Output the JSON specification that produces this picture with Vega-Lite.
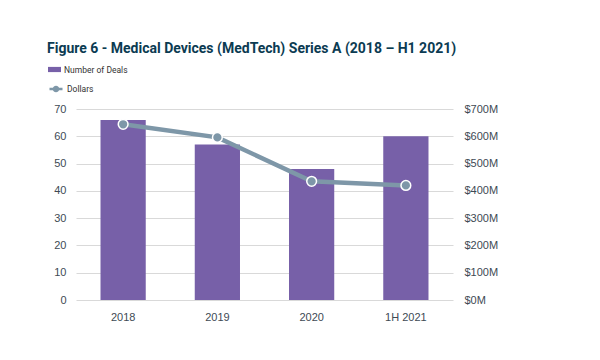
{
  "$schema": "https://vega.github.io/schema/vega-lite/v6.json",
  "width": 377,
  "height": 191,
  "autosize": {"type": "none"},
  "padding": {"left": 76, "top": 109, "right": 147, "bottom": 60},
  "background": "white",
  "title": {
    "text": "Figure 6 - Medical Devices (MedTech) Series A (2018 – H1 2021)",
    "anchor": "start",
    "frame": "group",
    "dx": -29,
    "offset": 7,
    "font": "Roboto",
    "fontSize": 14,
    "fontWeight": "bold",
    "color": "#0B3B52"
  },
  "config": {
    "view": {"stroke": null},
    "axis": {
      "labelFont": "Liberation Sans",
      "labelFontSize": 11,
      "labelColor": "#3E4A54",
      "ticks": false,
      "domain": false,
      "title": null
    },
    "legend": {
      "labelFont": "Roboto",
      "labelFontSize": 8.5,
      "labelColor": "#333333",
      "labelOffset": 3,
      "title": null,
      "orient": "none"
    }
  },
  "data": {
    "values": [
      {"year": "2018", "deals": 66, "dollars": 644},
      {"year": "2019", "deals": 57, "dollars": 596},
      {"year": "2020", "deals": 48, "dollars": 435},
      {"year": "1H 2021", "deals": 60, "dollars": 420}
    ]
  },
  "encoding": {
    "x": {
      "field": "year",
      "type": "nominal",
      "sort": null,
      "scale": {"paddingInner": 0.52, "paddingOuter": 0.26},
      "axis": {"labelAngle": 0, "labelPadding": 11, "grid": false}
    }
  },
  "layer": [
    {
      "mark": {"type": "bar"},
      "encoding": {
        "y": {
          "field": "deals",
          "type": "quantitative",
          "scale": {"domain": [0, 70]},
          "axis": {
            "values": [0, 10, 20, 30, 40, 50, 60, 70],
            "grid": true,
            "gridColor": "#D9D9D9",
            "labelPadding": 10
          }
        },
        "color": {
          "datum": "Number of Deals",
          "scale": {"range": ["#7760A8"]},
          "legend": {
            "legendX": -28,
            "legendY": -46,
            "symbolType": "M-1,-0.4H1V0.4H-1Z",
            "symbolSize": 169,
            "symbolStrokeWidth": 0
          }
        }
      }
    },
    {
      "encoding": {
        "y": {
          "field": "dollars",
          "type": "quantitative",
          "scale": {"domain": [0, 700]},
          "axis": {
            "orient": "right",
            "values": [0, 100, 200, 300, 400, 500, 600, 700],
            "labelExpr": "'$' + datum.value + 'M'",
            "grid": false,
            "labelPadding": 11
          }
        }
      },
      "layer": [
        {
          "mark": {"type": "line", "strokeWidth": 4.5},
          "encoding": {
            "stroke": {
              "datum": "Dollars",
              "scale": {"range": ["#7E97A8"]},
              "legend": {
                "legendX": -28,
                "legendY": -28,
                "symbolType": "M-1,0H-0.45M0.45,0H1M-0.32,0A0.32,0.32 0 1,1 0.32,0A0.32,0.32 0 1,1 -0.32,0",
                "symbolSize": 169,
                "symbolStrokeWidth": 2.5,
                "encode": {"symbols": {"update": {"fill": {"value": "#7E97A8"}, "stroke": {"value": "#7E97A8"}}}}
              }
            }
          }
        },
        {
          "mark": {"type": "point", "filled": true, "size": 95, "fill": "#7E97A8", "stroke": "white", "strokeWidth": 1.5, "opacity": 1}
        }
      ]
    }
  ],
  "resolve": {"scale": {"y": "independent"}}
}
